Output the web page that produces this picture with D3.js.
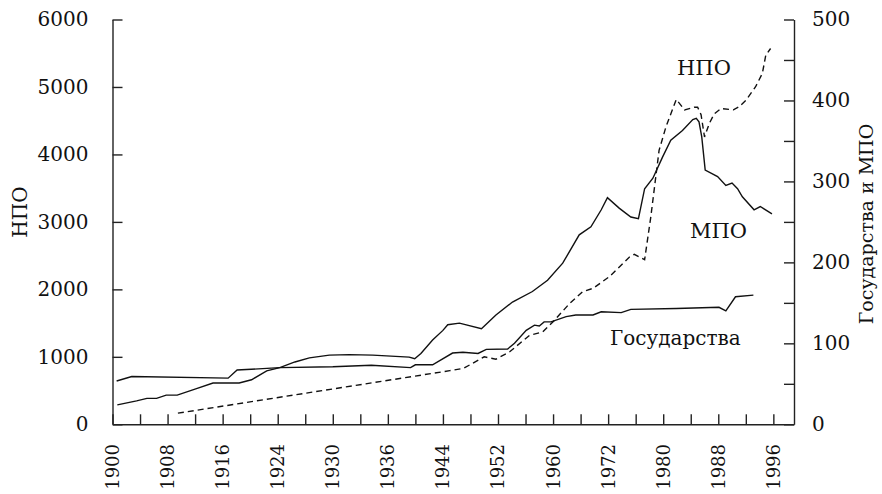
<!DOCTYPE html>
<html>
<head>
<meta charset="utf-8">
<script src="https://cdn.jsdelivr.net/npm/d3@7"></script>
<style>
  body { margin: 0; background: #fff; }
  svg text { font-family: "DejaVu Serif", serif; fill: #111; }
</style>
</head>
<body>
<div id="chart"></div>
<script>
var svgWidth = 882;
var svgHeight = 494;

// НПО (left axis)
var ngoYears = [1909.5, 1946.5, 1949, 1951, 1954, 1955.7, 1957.7, 1960.6, 1962.5, 1964, 1966.4, 1968.3, 1969.8,
  1972.2, 1975.1, 1975.8, 1977.3, 1978.2, 1979.4, 1980.4, 1981.9, 1983.1, 1984.5, 1985, 1985.5, 1986,
  1986.7, 1987.4, 1988.4, 1990.2, 1991, 1992, 1993.4, 1994.4, 1994.9, 1995.6];
var ngoValues = [165, 755, 795, 830, 1000, 965, 1075, 1320, 1370, 1520, 1790, 1965, 2015,
  2190, 2480, 2520, 2440, 3075, 4060, 4410, 4815, 4660, 4700, 4700, 4590, 4260,
  4460, 4600, 4680, 4660, 4705, 4800, 5000, 5200, 5470, 5570];

// МПО (right axis)
var igoYears = [1900.7, 1903.5, 1905, 1906.4, 1907.8, 1909.4, 1912.2, 1914.6, 1916.8, 1918.4, 1920.2, 1922.4,
  1924.3, 1926.5, 1928.6, 1931.5, 1934.4, 1937.8, 1943.1, 1943.9, 1944.8, 1946.5, 1948, 1948.7, 1950.4,
  1953.6, 1955.7, 1958.1, 1961, 1963.2, 1965.4, 1967.8, 1969.5, 1971, 1971.9, 1973.6, 1975.3, 1976.4,
  1977.3, 1978.5, 1979.9, 1981.1, 1982.8, 1984.3, 1984.8, 1985.2, 1985.6, 1986.1, 1987.9, 1989.1, 1990,
  1990.8, 1991.5, 1993.2, 1994.1, 1995.8];
var igoValues = [24, 29, 32, 32, 36, 36, 44, 51, 51, 51, 55, 66,
  70, 77, 82, 85.5, 86, 85.5, 83, 81, 87.5, 104, 116, 123, 125,
  118, 135, 151, 164, 178, 199, 234, 244, 265, 280, 267, 256, 254,
  291, 304, 330, 351, 363, 376.5, 378, 373.5, 355, 314, 306, 295, 298,
  291, 281, 265, 269, 260];

// Государства (right axis)
var stateYears = [1900.6, 1902.8, 1916.8, 1918.1, 1924.3, 1932, 1937.6, 1943.3, 1944, 1946.5, 1949.4, 1950.9,
  1953.1, 1954.3, 1957.4, 1958.4, 1960.1, 1961.3, 1962, 1962.7, 1963.7, 1965.9, 1967.3, 1969.8, 1971,
  1973.9, 1975.3, 1981.9, 1988.1, 1989.1, 1990.5, 1993.1];
var stateValues = [53.5, 59, 57, 67, 70, 71, 73, 70, 73.5, 73.5, 88, 89,
  87.5, 92.5, 93, 100, 116, 122.5, 121.5, 126.5, 126.5, 133, 135, 135, 139,
  138, 142, 143, 144.5, 140, 157.5, 159.5];

var xTickYears = [1900, 1908, 1916, 1924, 1932, 1940, 1948, 1956, 1964, 1972, 1980, 1988, 1996];
var xTickLabels = ["1900", "1908", "1916", "1924", "1930", "1936", "1944", "1952", "1960", "1972", "1980", "1988", "1996"];
var leftTicks = [0, 1000, 2000, 3000, 4000, 5000, 6000];
var rightTicks = [0, 50, 100, 150, 200, 250, 300, 350, 400, 450, 500];

var svg = d3.select("#chart").append("svg")
  .attr("width", svgWidth)
  .attr("height", svgHeight);

var x = d3.scaleLinear().domain([1900, 1999]).range([112.5, 794]);
var yLeft = d3.scaleLinear().domain([0, 6000]).range([424.3, 19.5]);
var yRight = d3.scaleLinear().domain([0, 500]).range([424.3, 19.5]);

function styleAxis(g) {
  g.attr("font-size", 20).attr("font-family", "DejaVu Serif");
  g.select(".domain").attr("stroke", "#222").attr("stroke-width", 1.4);
  g.selectAll(".tick line").attr("stroke", "#222").attr("stroke-width", 1.4);
  g.selectAll(".tick text").attr("fill", "#111");
}

// left axis
svg.append("g")
  .attr("transform", "translate(112.5,0)")
  .call(d3.axisLeft(yLeft).tickValues(leftTicks).tickSize(-10).tickSizeOuter(0).tickPadding(24)
    .tickFormat(d3.format("d")))
  .call(styleAxis);

// right axis
svg.append("g")
  .attr("transform", "translate(794,0)")
  .call(d3.axisRight(yRight).tickValues(rightTicks).tickSize(-10).tickSizeOuter(0).tickPadding(18)
    .tickFormat(d => d % 100 === 0 ? d : ""))
  .call(styleAxis);

// bottom axis: minor ticks every 4 years, no text
var minorYears = d3.range(1900, 1997, 4);
svg.append("g")
  .attr("transform", "translate(0,424.3)")
  .call(d3.axisBottom(x).tickValues(minorYears).tickSize(-10).tickSizeOuter(0).tickFormat(""))
  .call(styleAxis);

// rotated year labels
xTickYears.forEach(function(yr, i) {
  svg.append("text")
    .attr("class", "year-label")
    .attr("transform", "translate(" + (x(yr) + 6.5) + ",444) rotate(-90)")
    .attr("text-anchor", "end")
    .attr("font-size", 18)
    .text(xTickLabels[i]);
});

// axis titles
svg.append("text")
  .attr("transform", "translate(27,212) rotate(-90)")
  .attr("text-anchor", "middle")
  .attr("font-size", 20)
  .text("НПО");

svg.append("text")
  .attr("transform", "translate(873,224) rotate(-90)")
  .attr("text-anchor", "middle")
  .attr("font-size", 19)
  .text("Государства и МПО");

// lines
var lineLeft = d3.line().x(d => x(d[0])).y(d => yLeft(d[1]));
var lineRight = d3.line().x(d => x(d[0])).y(d => yRight(d[1]));

svg.append("path")
  .datum(d3.zip(ngoYears, ngoValues))
  .attr("d", lineLeft)
  .attr("fill", "none")
  .attr("stroke", "#111")
  .attr("stroke-width", 1.4)
  .attr("stroke-dasharray", "6,4");

svg.append("path")
  .datum(d3.zip(igoYears, igoValues))
  .attr("d", lineRight)
  .attr("fill", "none")
  .attr("stroke", "#111")
  .attr("stroke-width", 1.4);

svg.append("path")
  .datum(d3.zip(stateYears, stateValues))
  .attr("d", lineRight)
  .attr("fill", "none")
  .attr("stroke", "#111")
  .attr("stroke-width", 1.4);

// series labels
svg.append("text").attr("x", 677).attr("y", 75).attr("font-size", 21).text("НПО");
svg.append("text").attr("x", 690).attr("y", 238).attr("font-size", 21).text("МПО");
svg.append("text").attr("x", 610).attr("y", 345).attr("font-size", 20).text("Государства");
</script>
</body>
</html>
